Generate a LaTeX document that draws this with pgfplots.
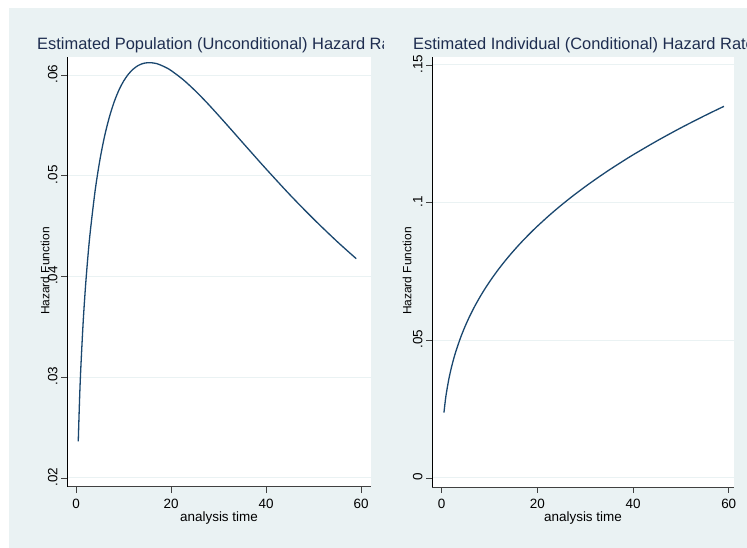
\documentclass[border=0pt]{standalone}
\usepackage{pgfplots}
\pgfplotsset{compat=1.18}
\usepackage{fontspec}
\setmainfont{Liberation Sans}
\definecolor{bgc}{HTML}{EAF2F3}
\definecolor{navy}{HTML}{1A476F}
\definecolor{titlec}{HTML}{1E2D50}
\definecolor{gridc}{HTML}{EAF2F3}

\pgfplotsset{stata/.style={
  scale only axis, height=430bp,
  axis x line*=bottom, axis y line*=left,
  axis line style={-},
  axis background/.style={fill=white},
  tick align=outside, major tick length=6bp,
  every tick/.style={black!75, line width=0.8bp},
  ymajorgrids, grid style={gridc, line width=1bp},
  xtick={0,20,40,60},
  scaled y ticks=false, scaled x ticks=false,
  /pgf/number format/assume math mode=true,
  tick label style={font=\fontsize{13.5}{14}\selectfont},
  xticklabel style={yshift=-3bp},
  yticklabel style={rotate=90, anchor=south, xshift=1bp},
  x axis line style={black!75, line width=1bp},
  y axis line style={black, line width=1bp},
  xlabel style={font=\fontsize{13.5}{14}\selectfont, at={(axis description cs:0.5,-0.072)}, anchor=center},
  ylabel style={font=\fontsize{12}{13}\selectfont, rotate=0, anchor=center},
  clip=false,
}}

\begin{document}
\begin{tikzpicture}
\useasboundingbox (0,0) rectangle (747bp,548bp);
\clip (0,0) rectangle (747bp,548bp);
\fill[white] (0,0) rectangle (747bp,548bp);
\fill[bgc] (9bp,0) rectangle (747bp,540bp);

\begin{axis}[stata, at={(67bp,61bp)}, anchor=south west, width=304bp,
  xmin=-1.9, xmax=62.1, ymin=0.0191, ymax=0.0618,
  ytick={0.02,0.03,0.04,0.05,0.06}, yticklabels={.02,.03,.04,.05,.06},
  xlabel={analysis time}, ylabel={Hazard Function},
  ylabel style={at={(axis description cs:-0.0724,0.502)}}]
\addplot[navy, line width=1.3bp, smooth, tension=0.5] coordinates {
(0.47,0.02363) (0.75,0.02788) (1,0.03083) (1.5,0.03545) (2,0.03904) (2.5,0.04198)
(3,0.04446) (4,0.04845) (5,0.05151) (6,0.05391) (7,0.05580) (8,0.05730)
(9,0.05848) (10,0.05939) (11,0.06008) (12,0.06058) (13,0.06093) (14,0.06114)
(15,0.06123) (16,0.06122) (17,0.06114) (18,0.06096) (19,0.06074) (20,0.06046)
(22.5,0.05957) (25,0.05849) (27.5,0.05729) (30,0.05600) (32.5,0.05468)
(35,0.05334) (37.5,0.05201) (40,0.05069) (45,0.04813) (50,0.04572)
(55,0.04346) (59,0.04177)};
\end{axis}

\begin{axis}[stata, at={(432bp,61bp)}, anchor=south west, width=302bp,
  xmin=-2.03, xmax=61.1, ymin=-0.0033, ymax=0.1529,
  ytick={0,0.05,0.1,0.15}, yticklabels={0,.05,.1,.15},
  xlabel={analysis time}, ylabel={Hazard Function},
  ylabel style={at={(axis description cs:-0.0828,0.502)}}]
\addplot[navy, line width=1.3bp, smooth, tension=0.5] coordinates {
(0.47,0.02370) (0.75,0.02804) (1,0.03110) (1.5,0.03599) (2,0.03991) (2.5,0.04325)
(3,0.04619) (4,0.05123) (5,0.05551) (6,0.05928) (7,0.06266) (8,0.06575)
(9,0.06860) (10,0.07125) (11,0.07373) (12,0.07608) (13,0.07830) (14,0.08042)
(15,0.08244) (16,0.08438) (17,0.08625) (18,0.08803) (19,0.08977) (20,0.09144)
(22.5,0.09540) (25,0.09909) (27.5,0.10255) (30,0.10581) (32.5,0.10890)
(35,0.11185) (37.5,0.11465) (40,0.11736) (45,0.12243) (50,0.12717)
(55,0.13161) (59,0.13498)};
\end{axis}

\begin{scope}
\clip (0,0) rectangle (383bp,548bp);
\node[anchor=base west, inner sep=0, text=titlec, font=\fontsize{16.5}{18}\selectfont]
  at (37bp,498bp) {Estimated Population (Unconditional) Hazard Rate};
\end{scope}
\node[anchor=base west, inner sep=0, text=titlec, font=\fontsize{16.5}{18}\selectfont]
  at (413bp,498bp) {Estimated Individual (Conditional) Hazard Rate};
\end{tikzpicture}
\end{document}
